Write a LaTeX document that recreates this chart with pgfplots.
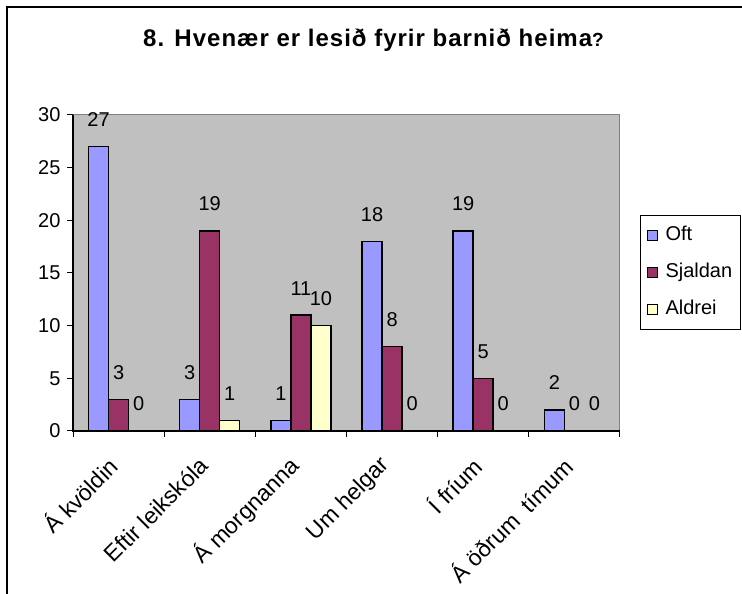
\documentclass[border=0pt]{standalone}
\usepackage{pgfplots}
\pgfplotsset{compat=1.18}
\usepackage{fontspec}
\setmainfont{Liberation Sans}
\definecolor{oft}{HTML}{9999FF}
\definecolor{sjaldan}{HTML}{993366}
\definecolor{aldrei}{HTML}{FFFFCC}
\definecolor{plotbg}{HTML}{C0C0C0}
\definecolor{frame}{HTML}{808080}
\newcommand{\fs}{\fontsize{20}{23}\selectfont}
\newcommand{\fx}{\fontsize{23}{27}\selectfont}
\begin{document}
\begin{tikzpicture}
\path[use as bounding box] (0pt,0pt) rectangle (742pt,594pt);
\draw[black, line width=1.2pt] (7pt,-20pt) -- (7pt,587pt) -- (760pt,587pt);
\node[font={\fontsize{24}{28}\selectfont\bfseries\addfontfeature{LetterSpace=4.2}}, anchor=base] at (373.5pt,547pt) {8. Hvenær er lesið fyrir barnið heima{\fontsize{19}{22}\selectfont ?}};
\begin{axis}[
  at={(73pt,163pt)}, anchor=south west,
  width=547pt, height=316pt, scale only axis,
  xmin=0, xmax=6, ymin=0, ymax=30,
  clip=false,
  axis background/.style={fill=plotbg},
  axis line style={draw=frame, line width=1pt},
  ybar=0pt, bar width=20pt,
  tick pos=left,
  xtick={0.4528,1.4528,2.4528,3.4528,4.4528,5.4528},
  xticklabels={Á kvöldin, Eftir leikskóla, Á morgnanna, Um helgar, Í fríum, Á öðrum\hspace{0.25em} tímum},
  minor xtick={0,1,2,3,4,5,6},
  major x tick style={draw=none},
  minor x tick style={draw=black, line width=1pt},
  minor tick length=6pt,
  ytick={0,5,10,15,20,25,30},
  ytick style={draw=black, line width=1pt},
  major tick length=6pt,
  tick align=outside,
  xticklabel shift=23.4pt,
  xticklabel style={font=\fx, rotate=45, anchor=east, inner sep=2pt},
  yticklabel style={font=\fs, xshift=-3pt},
  /pgf/number format/assume math mode=true,
  nodes near coords,
  every node near coord/.append style={font=\fs, anchor=center, yshift=27pt, black},
  legend style={at={(1.0366,0.6835)}, anchor=north west, draw=black, line width=1pt,
    font=\fs, inner xsep=6pt, inner ysep=8pt, row sep=13pt, column sep=6pt,
    nodes={text height=14pt, text depth=4pt, inner ysep=3pt}},
  legend cell align=left,
  legend image code/.code={\draw[#1, line width=1pt] (0pt,-5pt) rectangle (10pt,5pt);},
  after end axis/.code={\draw[black, line width=1.2pt] (rel axis cs:0,1) -- (rel axis cs:0,0) -- (rel axis cs:1,0);},
]
\addplot[fill=oft, draw=black, line width=1.5pt] coordinates {(0.5,27) (1.5,3) (2.5,1) (3.5,18) (4.5,19) (5.5,2)};
\addlegendentry{Oft}
\addplot[fill=sjaldan, draw=black, line width=1.5pt] coordinates {(0.5,3) (1.5,19) (2.5,11) (3.5,8) (4.5,5) (5.5,0)};
\addlegendentry{Sjaldan}
\addplot[fill=aldrei, draw=black, line width=1.5pt] coordinates {(0.5,0) (1.5,1) (2.5,10) (3.5,0) (4.5,0) (5.5,0)};
\addlegendentry{Aldrei}
\end{axis}
\end{tikzpicture}
\end{document}
